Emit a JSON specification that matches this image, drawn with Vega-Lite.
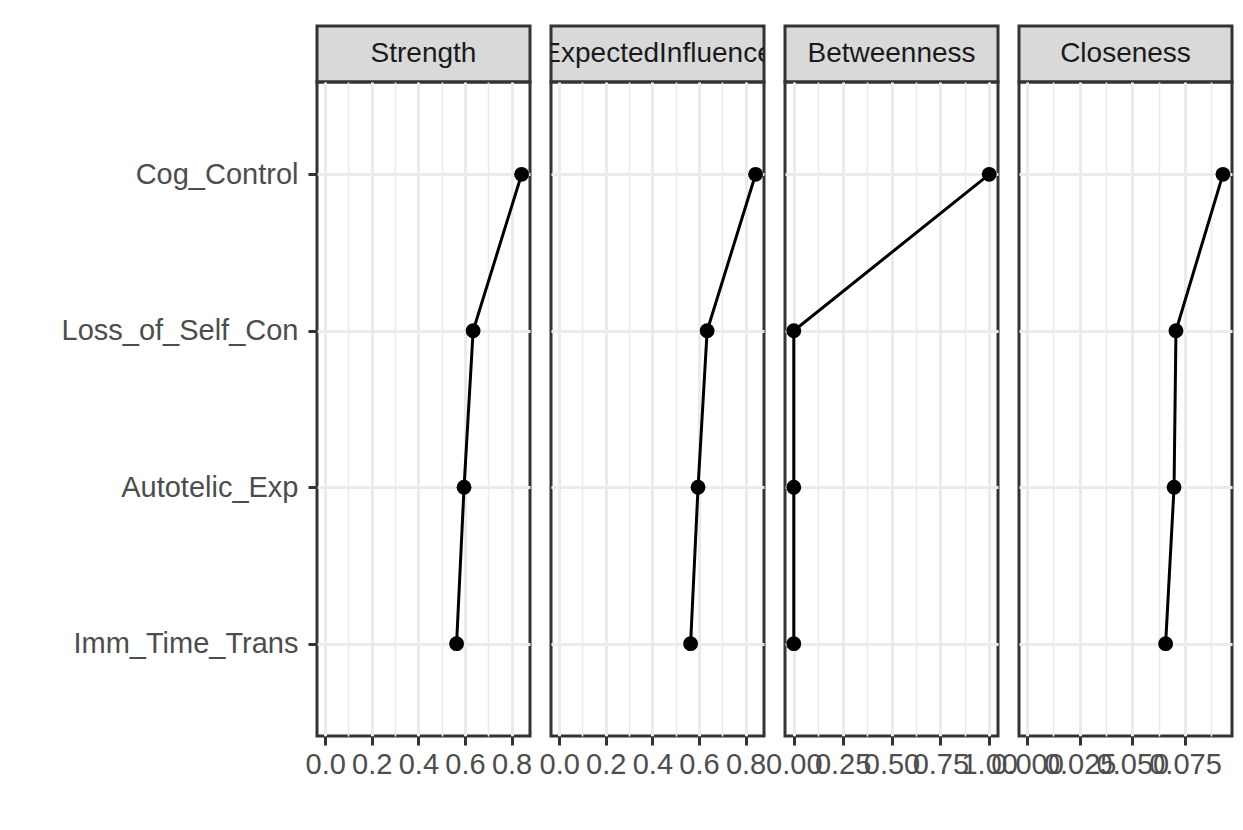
{
  "$schema": "https://vega.github.io/schema/vega-lite/v6.json",
  "padding": {"left": 59, "top": 24, "right": 10, "bottom": 40},
  "background": "white",
  "datasets": {
    "cent": [
      {"measure": "Strength", "node": "Cog_Control", "ord": 1, "value": 0.843},
      {"measure": "Strength", "node": "Loss_of_Self_Con", "ord": 2, "value": 0.635},
      {"measure": "Strength", "node": "Autotelic_Exp", "ord": 3, "value": 0.596},
      {"measure": "Strength", "node": "Imm_Time_Trans", "ord": 4, "value": 0.564},
      {"measure": "ExpectedInfluence", "node": "Cog_Control", "ord": 1, "value": 0.843},
      {"measure": "ExpectedInfluence", "node": "Loss_of_Self_Con", "ord": 2, "value": 0.635},
      {"measure": "ExpectedInfluence", "node": "Autotelic_Exp", "ord": 3, "value": 0.596},
      {"measure": "ExpectedInfluence", "node": "Imm_Time_Trans", "ord": 4, "value": 0.564},
      {"measure": "Betweenness", "node": "Cog_Control", "ord": 1, "value": 1.0},
      {"measure": "Betweenness", "node": "Loss_of_Self_Con", "ord": 2, "value": 0.0},
      {"measure": "Betweenness", "node": "Autotelic_Exp", "ord": 3, "value": 0.0},
      {"measure": "Betweenness", "node": "Imm_Time_Trans", "ord": 4, "value": 0.0},
      {"measure": "Closeness", "node": "Cog_Control", "ord": 1, "value": 0.0930},
      {"measure": "Closeness", "node": "Loss_of_Self_Con", "ord": 2, "value": 0.0707},
      {"measure": "Closeness", "node": "Autotelic_Exp", "ord": 3, "value": 0.0698},
      {"measure": "Closeness", "node": "Imm_Time_Trans", "ord": 4, "value": 0.0658}
    ],
    "panels": [
      {"measure": "Strength"},
      {"measure": "ExpectedInfluence"},
      {"measure": "Betweenness"},
      {"measure": "Closeness"}
    ]
  },
  "config": {
    "font": "Liberation Sans",
    "view": {"stroke": "#333333", "strokeWidth": 3},
    "axis": {
      "labelFont": "Liberation Sans",
      "labelFontSize": 29,
      "labelColor": "#4D4D4D",
      "labelLimit": 0,
      "tickColor": "#333333",
      "tickWidth": 3,
      "tickSize": 9,
      "gridColor": "#EBEBEB",
      "gridWidth": 3,
      "domain": false,
      "title": null
    }
  },
  "columns": 4,
  "spacing": {"column": 21, "row": 0},
  "bounds": "flush",
  "concat": [
    {
      "width": 213, "height": 56,
      "data": {"name": "panels"},
      "transform": [{"filter": "datum.measure === 'Strength'"}],
      "mark": {"type": "text", "fontSize": 28, "font": "Liberation Sans", "color": "#1A1A1A", "baseline": "middle", "align": "center", "clip": true},
      "encoding": {"text": {"field": "measure", "type": "nominal"}},
      "view": {"fill": "#D9D9D9", "stroke": "#333333", "strokeWidth": 3}
    },
    {
      "width": 213, "height": 56,
      "data": {"name": "panels"},
      "transform": [{"filter": "datum.measure === 'ExpectedInfluence'"}],
      "mark": {"type": "text", "fontSize": 28, "font": "Liberation Sans", "color": "#1A1A1A", "baseline": "middle", "align": "center", "clip": true},
      "encoding": {"text": {"field": "measure", "type": "nominal"}},
      "view": {"fill": "#D9D9D9", "stroke": "#333333", "strokeWidth": 3}
    },
    {
      "width": 213, "height": 56,
      "data": {"name": "panels"},
      "transform": [{"filter": "datum.measure === 'Betweenness'"}],
      "mark": {"type": "text", "fontSize": 28, "font": "Liberation Sans", "color": "#1A1A1A", "baseline": "middle", "align": "center", "clip": true},
      "encoding": {"text": {"field": "measure", "type": "nominal"}},
      "view": {"fill": "#D9D9D9", "stroke": "#333333", "strokeWidth": 3}
    },
    {
      "width": 213, "height": 56,
      "data": {"name": "panels"},
      "transform": [{"filter": "datum.measure === 'Closeness'"}],
      "mark": {"type": "text", "fontSize": 28, "font": "Liberation Sans", "color": "#1A1A1A", "baseline": "middle", "align": "center", "clip": true},
      "encoding": {"text": {"field": "measure", "type": "nominal"}},
      "view": {"fill": "#D9D9D9", "stroke": "#333333", "strokeWidth": 3}
    },
    {
      "width": 213, "height": 654,
      "data": {"name": "cent"},
      "transform": [{"filter": "datum.measure === 'Strength'"}],
      "resolve": {"axis": {"x": "independent"}},
      "layer": [
        {
          "mark": {"type": "line", "color": "black", "strokeWidth": 3},
          "encoding": {
            "x": {"field": "value", "type": "quantitative",
                  "scale": {"domain": [-0.035, 0.879], "nice": false, "zero": false},
                  "axis": {"values": [0, 0.2, 0.4, 0.6, 0.8], "format": ".1f", "labelOverlap": false, "labelFlush": false, "grid": true, "labelPadding": 5}},
            "y": {"field": "node", "type": "nominal",
                  "sort": ["Cog_Control", "Loss_of_Self_Con", "Autotelic_Exp", "Imm_Time_Trans"],
                  "scale": {"type": "point", "padding": 0.59},
                  "axis": {"grid": true, "labelPadding": 10, "labelOverlap": false, "labelLimit": 0}},
            "order": {"field": "ord", "type": "quantitative"}
          }
        },
        {
          "mark": {"type": "point", "filled": true, "color": "black", "size": 220, "opacity": 1},
          "encoding": {
            "x": {"field": "value", "type": "quantitative",
                  "axis": {"orient": "top", "values": [0.1, 0.3, 0.5, 0.7], "labels": false, "ticks": false, "domain": false, "grid": true, "gridWidth": 1.6}},
            "y": {"field": "node", "type": "nominal",
                  "sort": ["Cog_Control", "Loss_of_Self_Con", "Autotelic_Exp", "Imm_Time_Trans"]}
          }
        }
      ]
    },
    {
      "width": 213, "height": 654,
      "data": {"name": "cent"},
      "transform": [{"filter": "datum.measure === 'ExpectedInfluence'"}],
      "resolve": {"axis": {"x": "independent"}},
      "layer": [
        {
          "mark": {"type": "line", "color": "black", "strokeWidth": 3},
          "encoding": {
            "x": {"field": "value", "type": "quantitative",
                  "scale": {"domain": [-0.035, 0.879], "nice": false, "zero": false},
                  "axis": {"values": [0, 0.2, 0.4, 0.6, 0.8], "format": ".1f", "labelOverlap": false, "labelFlush": false, "grid": true, "labelPadding": 5}},
            "y": {"field": "node", "type": "nominal",
                  "sort": ["Cog_Control", "Loss_of_Self_Con", "Autotelic_Exp", "Imm_Time_Trans"],
                  "scale": {"type": "point", "padding": 0.59},
                  "axis": {"grid": true, "labels": false, "ticks": false}},
            "order": {"field": "ord", "type": "quantitative"}
          }
        },
        {
          "mark": {"type": "point", "filled": true, "color": "black", "size": 220, "opacity": 1},
          "encoding": {
            "x": {"field": "value", "type": "quantitative",
                  "axis": {"orient": "top", "values": [0.1, 0.3, 0.5, 0.7], "labels": false, "ticks": false, "domain": false, "grid": true, "gridWidth": 1.6}},
            "y": {"field": "node", "type": "nominal",
                  "sort": ["Cog_Control", "Loss_of_Self_Con", "Autotelic_Exp", "Imm_Time_Trans"]}
          }
        }
      ]
    },
    {
      "width": 213, "height": 654,
      "data": {"name": "cent"},
      "transform": [{"filter": "datum.measure === 'Betweenness'"}],
      "resolve": {"axis": {"x": "independent"}},
      "layer": [
        {
          "mark": {"type": "line", "color": "black", "strokeWidth": 3},
          "encoding": {
            "x": {"field": "value", "type": "quantitative",
                  "scale": {"domain": [-0.045, 1.045], "nice": false, "zero": false},
                  "axis": {"values": [0, 0.25, 0.5, 0.75, 1.0], "format": ".2f", "labelOverlap": false, "labelFlush": false, "grid": true, "labelPadding": 5}},
            "y": {"field": "node", "type": "nominal",
                  "sort": ["Cog_Control", "Loss_of_Self_Con", "Autotelic_Exp", "Imm_Time_Trans"],
                  "scale": {"type": "point", "padding": 0.59},
                  "axis": {"grid": true, "labels": false, "ticks": false}},
            "order": {"field": "ord", "type": "quantitative"}
          }
        },
        {
          "mark": {"type": "point", "filled": true, "color": "black", "size": 220, "opacity": 1},
          "encoding": {
            "x": {"field": "value", "type": "quantitative",
                  "axis": {"orient": "top", "values": [0.125, 0.375, 0.625, 0.875], "labels": false, "ticks": false, "domain": false, "grid": true, "gridWidth": 1.6}},
            "y": {"field": "node", "type": "nominal",
                  "sort": ["Cog_Control", "Loss_of_Self_Con", "Autotelic_Exp", "Imm_Time_Trans"]}
          }
        }
      ]
    },
    {
      "width": 213, "height": 654,
      "data": {"name": "cent"},
      "transform": [{"filter": "datum.measure === 'Closeness'"}],
      "resolve": {"axis": {"x": "independent"}},
      "layer": [
        {
          "mark": {"type": "line", "color": "black", "strokeWidth": 3},
          "encoding": {
            "x": {"field": "value", "type": "quantitative",
                  "scale": {"domain": [-0.0038, 0.0973], "nice": false, "zero": false},
                  "axis": {"values": [0, 0.025, 0.05, 0.075], "format": ".3f", "labelOverlap": false, "labelFlush": false, "grid": true, "labelPadding": 5}},
            "y": {"field": "node", "type": "nominal",
                  "sort": ["Cog_Control", "Loss_of_Self_Con", "Autotelic_Exp", "Imm_Time_Trans"],
                  "scale": {"type": "point", "padding": 0.59},
                  "axis": {"grid": true, "labels": false, "ticks": false}},
            "order": {"field": "ord", "type": "quantitative"}
          }
        },
        {
          "mark": {"type": "point", "filled": true, "color": "black", "size": 220, "opacity": 1},
          "encoding": {
            "x": {"field": "value", "type": "quantitative",
                  "axis": {"orient": "top", "values": [0.0125, 0.0375, 0.0625, 0.0875], "labels": false, "ticks": false, "domain": false, "grid": true, "gridWidth": 1.6}},
            "y": {"field": "node", "type": "nominal",
                  "sort": ["Cog_Control", "Loss_of_Self_Con", "Autotelic_Exp", "Imm_Time_Trans"]}
          }
        }
      ]
    }
  ]
}
